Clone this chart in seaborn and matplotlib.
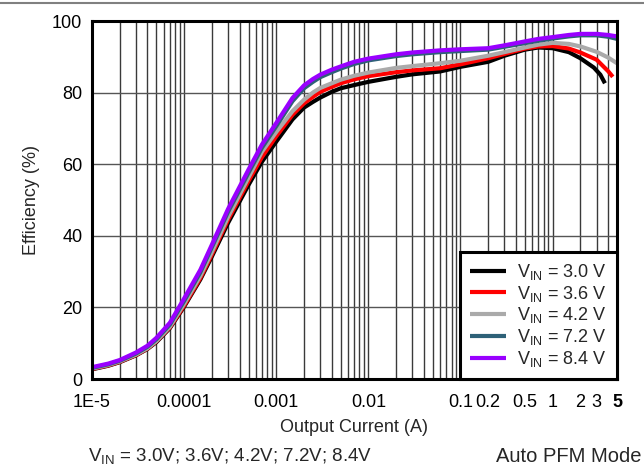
import numpy as np
import pandas as pd
import matplotlib
matplotlib.use("Agg")
import matplotlib.pyplot as plt
from matplotlib.ticker import LogLocator, FixedLocator, FixedFormatter, NullFormatter
from matplotlib.lines import Line2D
import seaborn as sns

# Efficiency vs. output current, one series per input voltage
i_30 = [1e-5, 1.5e-5, 2e-5, 3e-5, 4e-5, 5e-5, 7e-5, 1e-4, 1.5e-4, 2e-4, 3e-4, 5e-4, 7e-4,
        1e-3, 1.5e-3, 2e-3, 2.5e-3, 3e-3, 4e-3, 5e-3, 7e-3, 0.01, 0.02, 0.03, 0.06, 0.1,
        0.2, 0.3, 0.5, 0.7, 1, 1.5, 2, 2.8, 3.3, 3.7]
eff_30 = [2.7, 3.7, 4.7, 6.6, 8.4, 10.3, 14.2, 20.2, 27.8, 34.2, 43.6, 54.2, 60.7,
          66.3, 72.5, 75.8, 77.4, 78.6, 80.2, 81.2, 82.1, 83.0, 84.4, 85.1, 85.9, 87.2,
          88.6, 90.3, 92.0, 92.6, 92.4, 91.3, 89.6, 87.0, 85.0, 82.6]

i_36 = [1e-5, 1.5e-5, 2e-5, 3e-5, 4e-5, 5e-5, 7e-5, 1e-4, 1.5e-4, 2e-4, 3e-4, 5e-4, 7e-4,
        1e-3, 1.5e-3, 2e-3, 2.5e-3, 3e-3, 4e-3, 5e-3, 7e-3, 0.01, 0.02, 0.03, 0.06, 0.1,
        0.2, 0.3, 0.5, 0.7, 1, 1.5, 2, 3, 4, 4.5]
eff_36 = [2.8, 3.8, 4.8, 6.7, 8.5, 10.5, 14.4, 20.5, 28.2, 34.8, 44.5, 55.3, 62.0,
          67.8, 73.8, 77.0, 78.8, 80.2, 81.6, 82.6, 83.7, 84.6, 85.7, 86.2, 86.8, 87.9,
          89.6, 90.8, 92.3, 92.9, 93.0, 92.3, 91.2, 89.2, 86.0, 84.4]

i_42 = [1e-5, 1.5e-5, 2e-5, 3e-5, 4e-5, 5e-5, 7e-5, 1e-4, 1.5e-4, 2e-4, 3e-4, 5e-4, 7e-4,
        1e-3, 1.5e-3, 2e-3, 2.5e-3, 3e-3, 4e-3, 5e-3, 7e-3, 0.01, 0.02, 0.03, 0.06, 0.1,
        0.2, 0.3, 0.5, 0.7, 1, 1.5, 2, 3, 4, 5]
eff_42 = [2.9, 3.9, 4.9, 6.8, 8.6, 10.6, 14.6, 21.0, 28.8, 35.5, 45.3, 56.3, 63.5,
          69.0, 74.8, 78.0, 80.0, 81.3, 82.6, 83.6, 84.7, 85.6, 86.9, 87.4, 88.2, 88.9,
          90.3, 91.3, 92.6, 93.4, 93.9, 93.6, 92.9, 91.4, 89.8, 88.2]

i_72 = [1e-5, 1.5e-5, 2e-5, 3e-5, 4e-5, 5e-5, 7e-5, 1e-4, 1.5e-4, 2e-4, 3e-4, 5e-4, 7e-4,
        1e-3, 1.5e-3, 2e-3, 2.5e-3, 3e-3, 4e-3, 5e-3, 7e-3, 0.01, 0.02, 0.03, 0.06, 0.1,
        0.2, 0.3, 0.5, 0.7, 1, 1.5, 2, 3, 4, 5]
eff_72 = [3.1, 4.1, 5.1, 7.1, 9.0, 11.1, 15.2, 21.8, 29.8, 36.8, 46.7, 57.6, 64.6,
          70.6, 77.6, 81.2, 83.0, 84.3, 85.7, 86.7, 88.0, 89.0, 90.2, 90.7, 91.3, 91.6,
          92.0, 92.8, 93.8, 94.5, 95.1, 95.7, 96.0, 96.0, 95.6, 95.0]

i_84 = [1e-5, 1.5e-5, 2e-5, 3e-5, 4e-5, 5e-5, 7e-5, 1e-4, 1.5e-4, 2e-4, 3e-4, 5e-4, 7e-4,
        1e-3, 1.5e-3, 2e-3, 2.5e-3, 3e-3, 4e-3, 5e-3, 7e-3, 0.01, 0.02, 0.03, 0.06, 0.1,
        0.2, 0.3, 0.5, 0.7, 1, 1.5, 2, 3, 4, 5]
eff_84 = [3.3, 4.3, 5.3, 7.4, 9.3, 11.5, 15.7, 22.5, 30.5, 37.5, 47.5, 58.5, 65.5,
          71.5, 78.5, 82.0, 83.8, 85.0, 86.4, 87.3, 88.6, 89.5, 90.7, 91.2, 91.8, 92.1,
          92.4, 93.2, 94.3, 95.0, 95.5, 96.1, 96.4, 96.4, 96.1, 95.7]

series_labels = [r"V$_\mathregular{IN}$ = 3.0 V", r"V$_\mathregular{IN}$ = 3.6 V",
                 r"V$_\mathregular{IN}$ = 4.2 V", r"V$_\mathregular{IN}$ = 7.2 V",
                 r"V$_\mathregular{IN}$ = 8.4 V"]
series_colors = ["#000000", "#FF0000", "#AAAAAA", "#2E6178", "#9900FF"]

x_ticks = [1e-5, 1e-4, 1e-3, 0.01, 0.1, 0.2, 0.5, 1, 2, 3, 5]
x_tick_labels = ["1E-5", "0.0001", "0.001", "0.01", "0.1", "0.2", "0.5", "1", "2", "3", "5"]
y_ticks = [0, 20, 40, 60, 80, 100]

frames = []
for cur, eff, lab in zip([i_30, i_36, i_42, i_72, i_84],
                         [eff_30, eff_36, eff_42, eff_72, eff_84], series_labels):
    frames.append(pd.DataFrame({"current": cur, "efficiency": eff, "series": lab}))
df = pd.concat(frames, ignore_index=True)

sns.set_theme(style="white")
plt.rcParams["font.family"] = ["Liberation Sans", "DejaVu Sans"]
plt.rcParams["mathtext.fontset"] = "custom"
plt.rcParams["mathtext.rm"] = "Liberation Sans"

fig = plt.figure(figsize=(6.44, 4.72), dpi=100)
ax = fig.add_axes([92 / 644, 1 - 379 / 472, 525 / 644, 358 / 472])

sns.lineplot(data=df, x="current", y="efficiency", hue="series",
             hue_order=series_labels, palette=dict(zip(series_labels, series_colors)),
             estimator=None, sort=False, linewidth=3, ax=ax, legend=True,
             solid_capstyle="butt", solid_joinstyle="round")

ax.set_xscale("log")
ax.set_xlim(1e-5, 5)
ax.set_ylim(0, 100)

ax.xaxis.set_major_locator(FixedLocator(x_ticks))
ax.xaxis.set_major_formatter(FixedFormatter(x_tick_labels))
ax.xaxis.set_minor_locator(LogLocator(base=10, subs=np.arange(2, 10), numticks=20))
ax.xaxis.set_minor_formatter(NullFormatter())
ax.set_yticks(y_ticks)

ax.grid(True, which="both", axis="x", color="#3a3a3a", linewidth=1.0)
ax.grid(True, which="major", axis="y", color="#555555", linewidth=1.0)
ax.set_axisbelow(True)

ax.tick_params(axis="both", which="both", length=0, labelsize=13, colors="#000000")
ax.tick_params(axis="x", pad=11)
ax.tick_params(axis="y", pad=7)
for t in ax.get_xticklabels():
    if t.get_text() == "5":
        t.set_fontweight("bold")

for s in ax.spines.values():
    s.set_visible(True)
    s.set_color("#000000")
    s.set_linewidth(2.2)

ax.set_xlabel("Output Current (A)", fontsize=13, labelpad=5.5)
ax.set_ylabel("Efficiency (%)", fontsize=13, labelpad=8.5)

handles, labels = ax.get_legend_handles_labels()
leg = ax.legend(handles, labels, loc="lower right", bbox_to_anchor=(1, 0),
                borderaxespad=0, fontsize=13, frameon=True, fancybox=False,
                handlelength=2.0, handletextpad=0.6, labelspacing=0.1,
                borderpad=0.55, framealpha=1)
leg.get_frame().set_edgecolor("#000000")
leg.get_frame().set_linewidth(2.2)
for h in leg.get_lines():
    h.set_linewidth(3)

fig.text(88 / 644, 1 - 462 / 472, r"V$_\mathregular{IN}$ = 3.0V; 3.6V; 4.2V; 7.2V; 8.4V",
         fontsize=13.5, ha="left", va="baseline")
fig.text(641 / 644, 1 - 462 / 472, "Auto PFM Mode", fontsize=14.5, ha="right", va="baseline")

fig.add_artist(Line2D([0, 1], [1 - 3 / 472, 1 - 3 / 472], transform=fig.transFigure,
                      color="#808080", linewidth=1.5))

fig.savefig("out.png", dpi=100)
